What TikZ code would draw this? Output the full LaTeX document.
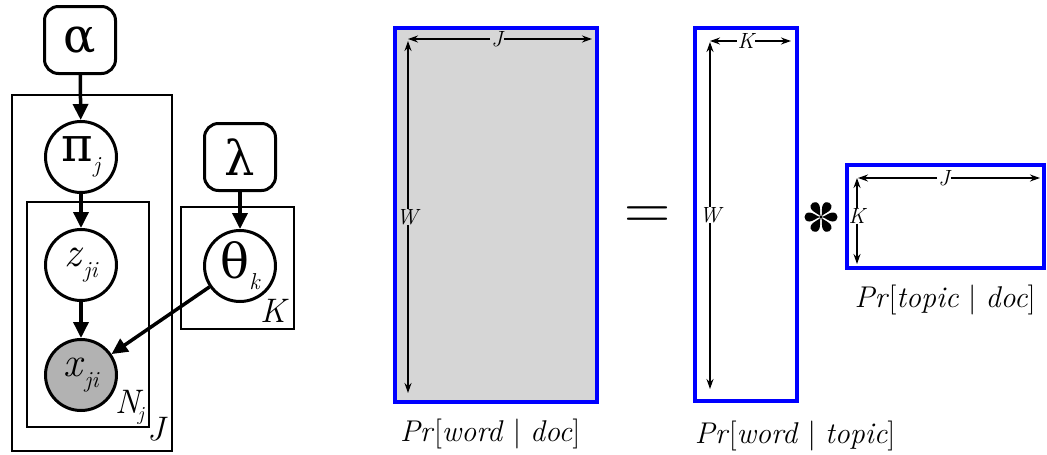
\documentclass[tikz,border=0pt]{standalone}
\usepackage{fontspec}
\newfontfamily\grk{DejaVu Serif}
\usetikzlibrary{arrows.meta}
\newcommand\subtxt[1]{\raisebox{-11pt}{\fontsize{23}{23}\selectfont\itshape #1}}
\begin{document}
\begin{tikzpicture}[x=1pt,y=-1pt,
 var/.style={circle,draw,line width=3pt,minimum size=71pt,inner sep=0pt,font=\fontsize{42}{42}\selectfont},
 hyper/.style={rounded corners=14pt,draw,line width=3pt,minimum width=71pt,minimum height=67pt,inner sep=0pt,font=\fontsize{48}{48}\selectfont\grk},
 plate/.style={draw,line width=1.5pt},
 garrow/.style={line width=3.5pt,-{Triangle[length=16pt,width=15pt]}},
 mat/.style={draw=blue,line width=4pt},
 darr/.style={line width=1.4pt,-{Stealth[length=10pt,width=7pt]}},
 dim/.style={font=\fontsize{22}{22}\selectfont\itshape,inner sep=1pt},
 captext/.style={font=\fontsize{30}{30}\selectfont},
 plab/.style={font=\fontsize{34}{34}\selectfont\itshape,inner sep=0pt,anchor=base west}
]
\useasboundingbox (0,0) rectangle (1047,455);
% plates
\draw[plate] (12,95) rectangle (172,451);
\draw[plate] (27,202) rectangle (149,427);
\draw[plate] (181,207) rectangle (294,329);
% nodes
\node[hyper] (alpha) at (80,40) {α};
\node[var] (pi) at (81,157) {{\grk\fontsize{48}{48}\selectfont π}\subtxt{j}};
\node[var] (z) at (81,265) {\textit{z}\subtxt{ji}};
\node[var,fill=gray!60] (x) at (81,375) {\textit{x}\subtxt{ji}};
\node[hyper] (lambda) at (240,157) {λ};
\node[var] (theta) at (240,266) {{\grk\fontsize{48}{48}\selectfont θ}\subtxt{k}};
\draw[garrow] (alpha) -- (pi);
\draw[garrow] (pi) -- (z);
\draw[garrow] (z) -- (x);
\draw[garrow] (lambda) -- (theta);
\draw[garrow] (theta) -- (x);
\node[plab] (lN) at (115,413) {N\kern-2pt\raisebox{-7pt}{\fontsize{20}{20}\selectfont j}};
\node[plab] (lJ) at (147,440) {J};
\node[plab] (lK) at (260,322) {K};
% matrices
\draw[mat,fill=black!16] (395,28) rectangle (597,402);
\coordinate (a1) at (408,39);
\coordinate (a2) at (592,39);
\coordinate (a3) at (408,41);
\coordinate (a4) at (408,393);
\node[dim,fill=black!16] (J1) at (497,39) {J};
\draw[darr] (J1) -- (a1);
\draw[darr] (J1) -- (a2);
\node[dim,inner sep=0pt] (W1) at (407,217) {W};
\draw[darr] (a3 |- W1.north) -- (a3);
\draw[darr] (a4 |- W1.south) -- (a4);
\node[font=\fontsize{64}{64}\selectfont,inner sep=0pt] (eq) at (648,218) {=};
\draw[mat] (695,28) rectangle (797,401);
\coordinate (b1) at (710,41);
\coordinate (b2) at (791,41);
\coordinate (b3) at (710,42);
\coordinate (b4) at (710,389);
\node[dim,fill=white] (K2) at (746,41) {K};
\draw[darr] (K2) -- (b1);
\draw[darr] (K2) -- (b2);
\node[dim,inner sep=0pt] (W2) at (710,215) {W};
\draw[darr] (b3 |- W2.north) -- (b3);
\draw[darr] (b4 |- W2.south) -- (b4);
% asterisk
\coordinate (star) at (821,217);
\foreach \a in {90,150,210,270,330,30}
  \fill[shift={(star)},rotate=\a] (0,-1) .. controls (0.8,-4) and (4.5,-8.5) .. (4.5,-11.5) .. controls (4.5,-14.8) and (2.5,-16.5) .. (0,-16.5) .. controls (-2.5,-16.5) and (-4.5,-14.8) .. (-4.5,-11.5) .. controls (-4.5,-8.5) and (-0.8,-4) .. (0,-1);
\fill (star) circle (1.6pt);
\draw[mat] (847,165) rectangle (1044,268);
\coordinate (c1) at (858,178);
\coordinate (c2) at (1040,178);
\coordinate (c3) at (857,178);
\coordinate (c4) at (857,264);
\node[dim,fill=white] (J3) at (944,178) {J};
\draw[darr] (J3) -- (c1);
\draw[darr] (J3) -- (c2);
\node[dim,inner sep=0pt] (K3) at (857,216) {K};
\draw[darr] (c3 |- K3.north) -- (c3);
\draw[darr] (c4 |- K3.south) -- (c4);
% captions
\node[captext] (cap1) at (490,434) {\textit{Pr}[\textit{word} | \textit{doc}]};
\node[captext] (cap2) at (795,436) {\textit{Pr}[\textit{word} | \textit{topic}]};
\node[captext] (cap3) at (945,300) {\textit{Pr}[\textit{topic} | \textit{doc}]};
\end{tikzpicture}
\end{document}
